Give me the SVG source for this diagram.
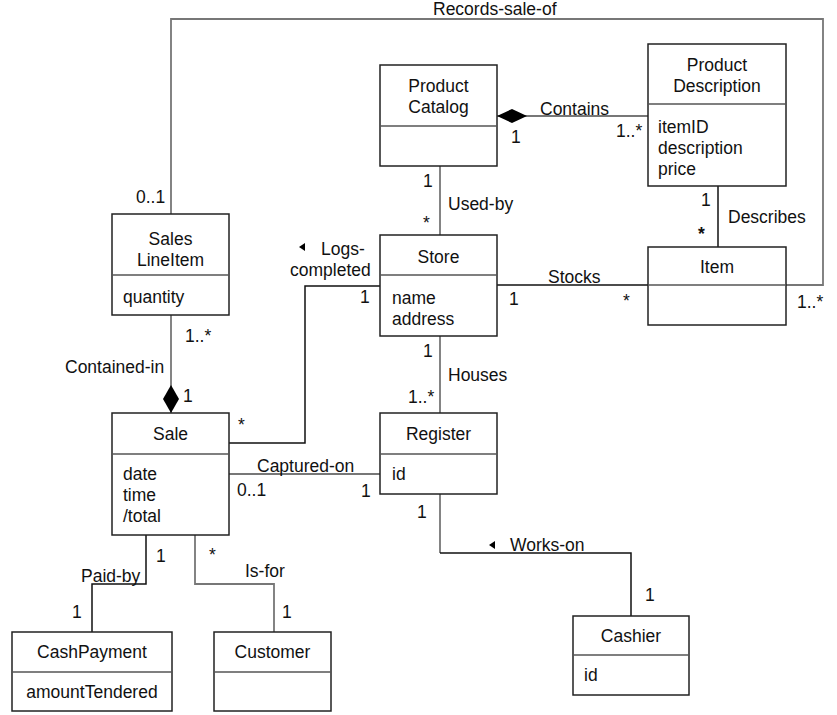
<svg xmlns="http://www.w3.org/2000/svg" width="837" height="715" viewBox="0 0 837 715">
<style>
text{font-family:"Liberation Sans",Arial,sans-serif;font-size:17.5px;fill:#111}
.c{text-anchor:middle}
.box{fill:#fff;stroke:#222;stroke-width:1.5}
.div{stroke:#555;stroke-width:1.5}
.ln{fill:none;stroke:#777;stroke-width:1.8}
.lk{fill:none;stroke:#111;stroke-width:1.5}
</style>
<rect width="837" height="715" fill="#fff"/>
<g id="connectors">
  <polyline class="ln" points="171,214 171,19 823,19 823,285 786,285"/>
  <line class="ln" x1="497" y1="116" x2="648" y2="116"/>
  <polygon points="497,116 512,109 527,116 512,123" fill="#000"/>
  <line class="ln" x1="440" y1="166" x2="440" y2="235"/>
  <line class="lk" x1="718" y1="186" x2="718" y2="247"/>
  <line class="lk" x1="497" y1="285" x2="648" y2="285"/>
  <line class="ln" x1="171" y1="315" x2="171" y2="413"/>
  <polygon points="171,413 163,399 171,385 179,399" fill="#000"/>
  <polyline class="lk" points="229,443 305,443 305,286 380,286"/>
  <polygon points="299,247 305,243 305,251" fill="#000"/>
  <line class="ln" x1="440" y1="336" x2="440" y2="413"/>
  <line class="ln" x1="229" y1="474" x2="380" y2="474"/>
  <polyline class="ln" points="440,494 440,553"/>
  <polyline class="lk" points="440,553 631,553 631,616"/>
  <polygon points="489,545 495,541 495,549" fill="#000"/>
  <polyline class="lk" points="146,535 146,584 92,584 92,632"/>
  <polyline class="ln" points="195,535 195,584 274,584 274,632"/>
</g>
<g id="labels">
  <text x="433" y="15">Records-sale-of</text>
  <text x="136" y="203">0..1</text>
  <text x="797" y="308">1..*</text>
  <text x="540" y="115">Contains</text>
  <text x="511" y="143">1</text>
  <text x="616" y="137">1..*</text>
  <text x="423" y="187">1</text>
  <text x="448" y="210">Used-by</text>
  <text x="423" y="229">*</text>
  <text x="701" y="206">1</text>
  <text x="728" y="223">Describes</text>
  <text x="698" y="240" style="font-weight:bold">*</text>
  <text x="548" y="283">Stocks</text>
  <text x="509" y="305">1</text>
  <text x="623" y="307">*</text>
  <text x="321" y="255">Logs-</text>
  <text x="290" y="276">completed</text>
  <text x="360" y="303">1</text>
  <text x="238" y="431">*</text>
  <text x="185" y="342">1..*</text>
  <text x="65" y="373">Contained-in</text>
  <text x="183" y="402">1</text>
  <text x="423" y="357">1</text>
  <text x="448" y="381">Houses</text>
  <text x="408" y="403">1..*</text>
  <text x="257" y="472">Captured-on</text>
  <text x="237" y="496">0..1</text>
  <text x="361" y="497">1</text>
  <text x="417" y="518">1</text>
  <text x="510" y="551">Works-on</text>
  <text x="645" y="601">1</text>
  <text x="156" y="562">1</text>
  <text x="81" y="582">Paid-by</text>
  <text x="72" y="618">1</text>
  <text x="209" y="561">*</text>
  <text x="245" y="577">Is-for</text>
  <text x="282" y="618">1</text>
</g>
<g id="ProductCatalog">
  <rect class="box" x="380" y="65" width="117" height="101"/>
  <line class="div" x1="380" y1="126" x2="497" y2="126"/>
  <text class="c" x="438.5" y="92">Product</text>
  <text class="c" x="438.5" y="113">Catalog</text>
</g>
<g id="ProductDescription">
  <rect class="box" x="648" y="44" width="138" height="142"/>
  <line class="div" x1="648" y1="104" x2="786" y2="104"/>
  <text class="c" x="717" y="71">Product</text>
  <text class="c" x="717" y="92">Description</text>
  <text x="658" y="133">itemID</text>
  <text x="658" y="154">description</text>
  <text x="658" y="175">price</text>
</g>
<g id="Item">
  <rect class="box" x="648" y="247" width="138" height="78"/>
  <line class="div" x1="648" y1="285" x2="786" y2="285"/>
  <text class="c" x="717" y="273">Item</text>
</g>
<g id="Store">
  <rect class="box" x="380" y="235" width="117" height="101"/>
  <line class="div" x1="380" y1="275" x2="497" y2="275"/>
  <text class="c" x="438.5" y="263">Store</text>
  <text x="392" y="304">name</text>
  <text x="392" y="325">address</text>
</g>
<g id="SalesLineItem">
  <rect class="box" x="112" y="214" width="117" height="101"/>
  <line class="div" x1="112" y1="275" x2="229" y2="275"/>
  <text class="c" x="170.5" y="245">Sales</text>
  <text class="c" x="170.5" y="266">LineItem</text>
  <text x="123" y="303">quantity</text>
</g>
<g id="Sale">
  <rect class="box" x="112" y="413" width="117" height="122"/>
  <line class="div" x1="112" y1="454" x2="229" y2="454"/>
  <text class="c" x="170.5" y="440">Sale</text>
  <text x="123" y="480">date</text>
  <text x="123" y="501">time</text>
  <text x="123" y="522">/total</text>
</g>
<g id="Register">
  <rect class="box" x="380" y="413" width="117" height="81"/>
  <line class="div" x1="380" y1="454" x2="497" y2="454"/>
  <text class="c" x="438.5" y="440">Register</text>
  <text x="392" y="480">id</text>
</g>
<g id="Cashier">
  <rect class="box" x="573" y="616" width="116" height="79"/>
  <line class="div" x1="573" y1="655" x2="689" y2="655"/>
  <text class="c" x="631" y="642">Cashier</text>
  <text x="584" y="681">id</text>
</g>
<g id="CashPayment">
  <rect class="box" x="12" y="632" width="160" height="79"/>
  <line class="div" x1="12" y1="672" x2="172" y2="672"/>
  <text class="c" x="92" y="658">CashPayment</text>
  <text class="c" x="92" y="698">amountTendered</text>
</g>
<g id="Customer">
  <rect class="box" x="214" y="632" width="117" height="79"/>
  <line class="div" x1="214" y1="672" x2="331" y2="672"/>
  <text class="c" x="272.5" y="658">Customer</text>
</g>
</svg>
